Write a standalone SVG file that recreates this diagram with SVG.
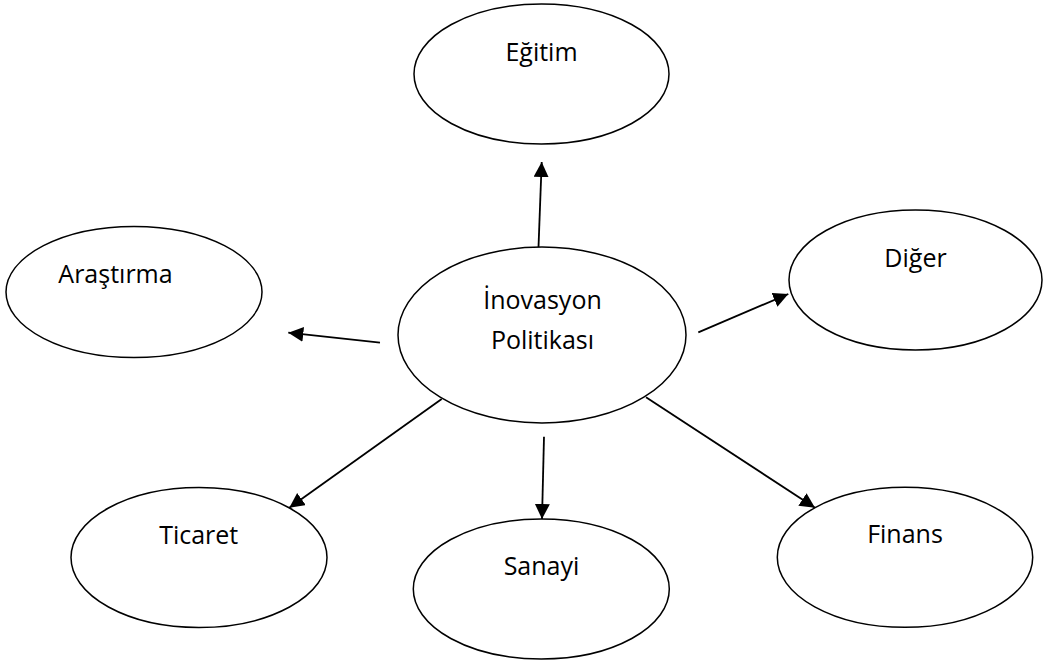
<svg xmlns="http://www.w3.org/2000/svg" width="1043" height="661" viewBox="0 0 1043 661">
  <style>
    .node { fill: #ffffff; stroke: #000000; stroke-width: 1.5; }
    .label { font-family: "Open Sans", "Liberation Sans", sans-serif; font-size: 25px; fill: #000000; text-anchor: middle; }
    .edge { stroke: #000000; stroke-width: 1.8; fill: none; marker-end: url(#arrow); }
  </style>
  <defs>
    <marker id="arrow" markerUnits="userSpaceOnUse" markerWidth="16" markerHeight="16" refX="15" refY="7.5" orient="auto">
      <path d="M0,0 L15,7.5 L0,15 Z" fill="#000000"/>
    </marker>
  </defs>
  <rect width="1043" height="661" fill="#ffffff"/>

  <g id="egitim">
    <ellipse class="node" cx="541.5" cy="74" rx="127.5" ry="70"/>
    <text class="label" x="541.5" y="61">Eğitim</text>
  </g>
  <g id="diger">
    <ellipse class="node" cx="915.5" cy="280" rx="126.5" ry="70"/>
    <text class="label" x="915.5" y="267">Diğer</text>
  </g>
  <g id="arastirma">
    <ellipse class="node" cx="134" cy="292" rx="128" ry="65.5"/>
    <text class="label" x="115.5" y="283">Araştırma</text>
  </g>
  <g id="inovasyon-politikasi">
    <ellipse class="node" cx="542" cy="335" rx="144" ry="88"/>
    <text class="label" x="542.5" y="309">İnovasyon</text>
    <text class="label" x="542.5" y="349">Politikası</text>
  </g>
  <g id="ticaret">
    <ellipse class="node" cx="199" cy="557.5" rx="128" ry="70"/>
    <text class="label" x="198.7" y="544">Ticaret</text>
  </g>
  <g id="sanayi">
    <ellipse class="node" cx="541.3" cy="589" rx="128" ry="70"/>
    <text class="label" x="541.5" y="575">Sanayi</text>
  </g>
  <g id="finans">
    <ellipse class="node" cx="905" cy="557.3" rx="127.7" ry="70"/>
    <text class="label" x="905" y="543">Finans</text>
  </g>

  <g id="connectors">
    <line class="edge" x1="538.5" y1="247" x2="541.7" y2="162"/>
    <line class="edge" x1="698.3" y1="332.3" x2="788.3" y2="294"/>
    <line class="edge" x1="380" y1="342.7" x2="288.3" y2="332.7"/>
    <line class="edge" x1="441.7" y1="399" x2="289.3" y2="507.7"/>
    <line class="edge" x1="544" y1="436.7" x2="542" y2="519"/>
    <line class="edge" x1="646" y1="397.3" x2="815" y2="507.7"/>
  </g>
</svg>
